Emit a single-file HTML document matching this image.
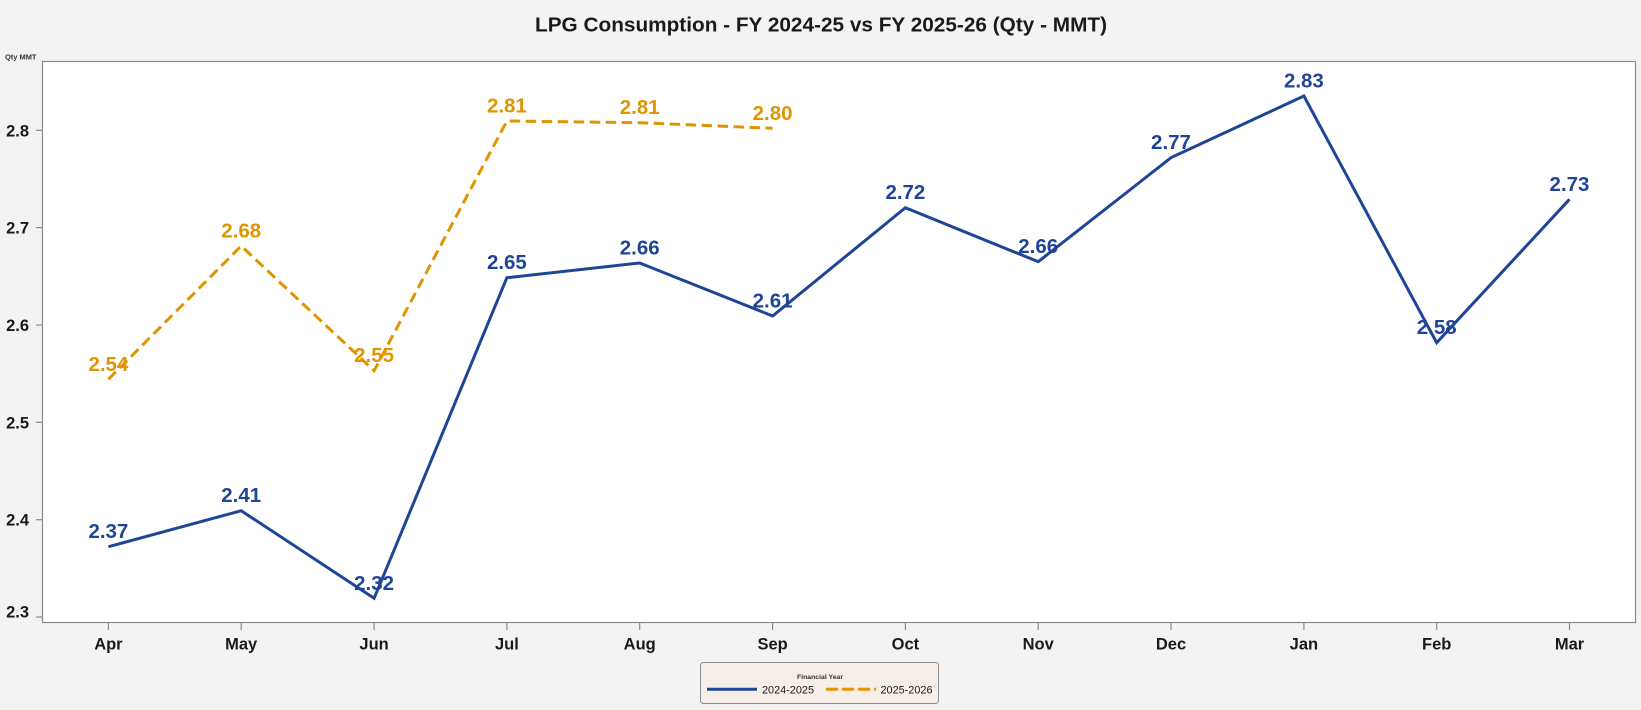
<!DOCTYPE html>
<html>
<head>
<meta charset="utf-8">
<style>
  html, body { margin:0; padding:0; background:#f3f3f3; }
  body { width:1641px; height:710px; overflow:hidden; }
  svg { display:block; }
  text { font-family: "Liberation Sans", "DejaVu Sans", sans-serif; }
</style>
</head>
<body>
<svg width="1641" height="710" viewBox="0 0 1641 710" xmlns="http://www.w3.org/2000/svg">
  <rect x="0" y="0" width="1641" height="710" fill="#f3f3f3"/>
  <!-- Title -->
  <text x="821" y="31.7" text-anchor="middle" font-size="20.7" font-weight="bold" fill="#1a1a1a" textLength="572" lengthAdjust="spacingAndGlyphs">LPG Consumption - FY 2024-25 vs FY 2025-26 (Qty - MMT)</text>

  <!-- Axis unit -->
  <text x="5" y="59.5" font-size="7.5" font-weight="bold" fill="#333" textLength="31.5" lengthAdjust="spacingAndGlyphs">Qty MMT</text>

  <!-- Plot area -->
  <rect x="42.5" y="61.5" width="1593" height="561" fill="#ffffff" stroke="#8a8a8a" stroke-width="1.2"/>

  <!-- Y ticks -->
  <g stroke="#8a8a8a" stroke-width="1.2">
    <line x1="36" y1="130.3" x2="42.5" y2="130.3"/>
    <line x1="36" y1="227.6" x2="42.5" y2="227.6"/>
    <line x1="36" y1="325" x2="42.5" y2="325"/>
    <line x1="36" y1="422.3" x2="42.5" y2="422.3"/>
    <line x1="36" y1="519.7" x2="42.5" y2="519.7"/>
    <line x1="36" y1="617" x2="42.5" y2="617"/>
  </g>
  <g font-size="16.5" font-weight="bold" fill="#1a1a1a" text-anchor="end">
    <text x="29" y="136.3">2.8</text>
    <text x="29" y="233.6">2.7</text>
    <text x="29" y="331">2.6</text>
    <text x="29" y="428.3">2.5</text>
    <text x="29" y="525.7">2.4</text>
    <text x="29" y="617.5">2.3</text>
  </g>

  <!-- X ticks -->
  <g stroke="#8a8a8a" stroke-width="1.2">
    <line x1="108.4" y1="622.5" x2="108.4" y2="630"/>
    <line x1="241.2" y1="622.5" x2="241.2" y2="630"/>
    <line x1="374.1" y1="622.5" x2="374.1" y2="630"/>
    <line x1="506.9" y1="622.5" x2="506.9" y2="630"/>
    <line x1="639.7" y1="622.5" x2="639.7" y2="630"/>
    <line x1="772.6" y1="622.5" x2="772.6" y2="630"/>
    <line x1="905.4" y1="622.5" x2="905.4" y2="630"/>
    <line x1="1038.2" y1="622.5" x2="1038.2" y2="630"/>
    <line x1="1171" y1="622.5" x2="1171" y2="630"/>
    <line x1="1303.9" y1="622.5" x2="1303.9" y2="630"/>
    <line x1="1436.7" y1="622.5" x2="1436.7" y2="630"/>
    <line x1="1569.5" y1="622.5" x2="1569.5" y2="630"/>
  </g>
  <g font-size="16.5" font-weight="bold" fill="#1a1a1a" text-anchor="middle">
    <text x="108.4" y="649.5">Apr</text>
    <text x="241.2" y="649.5">May</text>
    <text x="374.1" y="649.5">Jun</text>
    <text x="506.9" y="649.5">Jul</text>
    <text x="639.7" y="649.5">Aug</text>
    <text x="772.6" y="649.5">Sep</text>
    <text x="905.4" y="649.5">Oct</text>
    <text x="1038.2" y="649.5">Nov</text>
    <text x="1171" y="649.5">Dec</text>
    <text x="1303.9" y="649.5">Jan</text>
    <text x="1436.7" y="649.5">Feb</text>
    <text x="1569.5" y="649.5">Mar</text>
  </g>

  <!-- Series 2024-2025 -->
  <polyline fill="none" stroke="#1f4597" stroke-width="3" stroke-linejoin="miter"
    points="108.4,546.7 241.2,510.7 374.1,598.3 506.9,277.7 639.7,263 772.6,316 905.4,207.7 1038.2,261.7 1171,157.7 1303.9,96 1436.7,342.7 1569.5,199.3"/>

  <!-- Series 2025-2026 -->
  <polyline fill="none" stroke="#e09500" stroke-width="3" stroke-dasharray="10.5,5.5" stroke-linejoin="miter"
    points="108.4,379.3 241.2,246 374.1,370.7 506.9,121 639.7,122.7 772.6,128.3"/>

  <!-- Labels 2024-2025 -->
  <g font-size="20.5" font-weight="bold" fill="#1f4597" text-anchor="middle">
    <text x="108.4" y="538.2">2.37</text>
    <text x="241.2" y="502.2">2.41</text>
    <text x="374.1" y="589.8">2.32</text>
    <text x="506.9" y="269.2">2.65</text>
    <text x="639.7" y="254.5">2.66</text>
    <text x="772.6" y="307.5">2.61</text>
    <text x="905.4" y="199.2">2.72</text>
    <text x="1038.2" y="253.2">2.66</text>
    <text x="1171" y="149.2">2.77</text>
    <text x="1303.9" y="87.5">2.83</text>
    <text x="1436.7" y="334.2">2.58</text>
    <text x="1569.5" y="190.8">2.73</text>
  </g>
  <!-- Labels 2025-2026 -->
  <g font-size="20.5" font-weight="bold" fill="#e09500" text-anchor="middle">
    <text x="108.4" y="370.8">2.54</text>
    <text x="241.2" y="237.5">2.68</text>
    <text x="374.1" y="362.2">2.55</text>
    <text x="506.9" y="112.5">2.81</text>
    <text x="639.7" y="114.2">2.81</text>
    <text x="772.6" y="119.8">2.80</text>
  </g>

  <!-- Legend -->
  <rect x="700.5" y="662.5" width="238" height="41" rx="3" ry="3" fill="#f6eee9" stroke="#8c8c8c" stroke-width="1"/>
  <text x="820" y="679" text-anchor="middle" font-size="6.5" font-weight="bold" fill="#333" textLength="46" lengthAdjust="spacingAndGlyphs">Financial Year</text>
  <line x1="707" y1="689.3" x2="757" y2="689.3" stroke="#1f4597" stroke-width="3"/>
  <text x="762" y="693.3" font-size="11" fill="#1a1a1a" textLength="52" lengthAdjust="spacingAndGlyphs">2024-2025</text>
  <line x1="826" y1="689.3" x2="876" y2="689.3" stroke="#e09500" stroke-width="3" stroke-dasharray="12,4"/>
  <text x="880.5" y="693.3" font-size="11" fill="#1a1a1a" textLength="52" lengthAdjust="spacingAndGlyphs">2025-2026</text>
</svg>
</body>
</html>
